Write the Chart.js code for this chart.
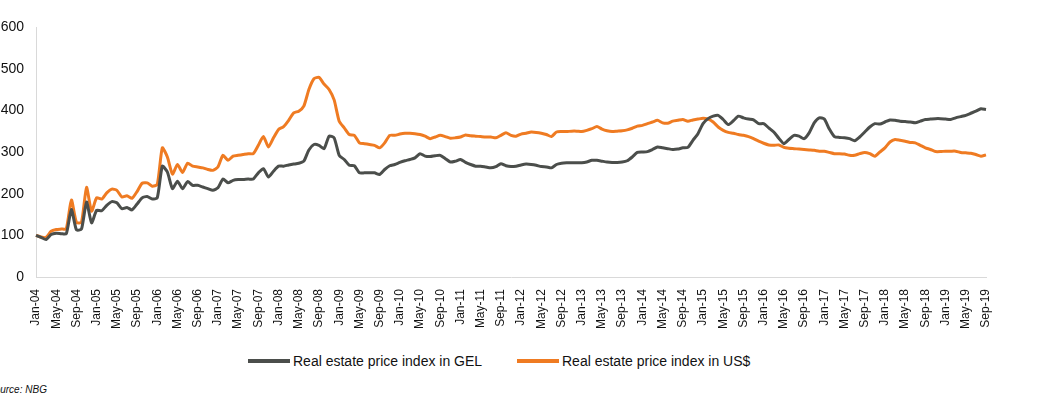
<!DOCTYPE html>
<html>
<head>
<meta charset="utf-8">
<script src="https://cdn.jsdelivr.net/npm/chart.js@4.4.1/dist/chart.umd.min.js"></script>
<style>
  html, body { margin: 0; padding: 0; background: #fff; overflow: hidden; }
  body { width: 1045px; height: 395px; position: relative; font-family: "Liberation Sans", Arial, sans-serif; }
  #wrap { position: absolute; left: 0; top: 0; width: 1045px; height: 330px; }
  #legend { position: absolute; top: 352px; left: 0; width: 1045px; height: 20px; font-size: 14px; color: #111; }
  .li { position: absolute; top: 0; height: 18px; line-height: 18px; white-space: nowrap; }
  .sw { position: absolute; top: 7px; height: 4px; width: 42px; }
  .tx { position: absolute; top: 0; left: 45px; }
  #source { position: absolute; left: -12px; top: 384px; font-size: 10px; font-style: italic; color: #111; white-space: nowrap; }
</style>
</head>
<body>
<div id="wrap"><canvas id="c"></canvas></div>
<div id="legend"></div>
<div id="source">Source: NBG</div>
<script>
const MONTHS = ["Jan","Feb","Mar","Apr","May","Jun","Jul","Aug","Sep","Oct","Nov","Dec"];
const categories = [];
for (let y = 2004; y <= 2019; y++) {
  for (let m = 0; m < 12; m++) {
    if (y === 2019 && m > 8) break;
    categories.push(MONTHS[m] + "-" + String(y).slice(2));
  }
}
const tickEvery = 4;

const seriesNames = ["Real estate price index in GEL", "Real estate price index in US$"];
const seriesColors = ["#4b4e4b", "#ef7b22"];

const gelIndex = [
100,95,90,102,105,104,104,162,113,115,180,130,
160,159,172,181,178,164,167,161,175,190,193,187,
190,266,252,212,230,212,229,220,220,216,212,208,
214,235,226,232,234,234,235,235,250,260,240,254,
266,266,269,271,273,278,305,318,316,308,338,334,
292,282,268,267,250,250,250,250,246,258,267,270,
275,279,282,286,296,290,289,291,292,284,276,278,
282,275,270,266,266,264,262,265,272,267,265,266,
269,271,270,268,265,264,262,270,273,274,274,274,
274,276,280,280,278,276,275,275,276,279,288,299,
300,301,306,312,310,308,306,307,310,311,328,344,
368,380,386,388,378,366,375,386,382,379,377,368,
368,358,348,333,320,330,340,338,332,346,370,382,
379,355,337,335,334,332,327,336,348,360,368,367,
372,377,376,374,373,372,370,374,378,379,380,380,
379,378,382,385,388,393,398,404,402
];

const usdIndex = [
100,96,95,110,114,115,116,185,131,131,215,158,
190,187,202,211,208,192,195,189,205,225,226,218,
222,310,288,247,270,251,273,266,264,262,258,256,
264,292,280,290,292,294,296,296,316,337,312,334,
354,361,376,394,398,410,450,476,479,463,450,425,
374,358,342,340,322,320,318,316,310,322,340,340,
343,345,345,344,342,338,332,336,340,337,333,334,
336,341,339,338,337,336,336,334,340,346,340,338,
343,345,348,347,345,342,337,348,349,349,350,350,
349,352,356,361,355,351,349,350,351,353,357,362,
364,368,372,376,370,369,374,376,378,374,377,379,
381,379,372,360,352,347,345,342,340,337,332,326,
321,317,316,317,311,309,308,307,306,305,304,302,
302,299,296,296,295,292,292,296,299,296,290,300,
310,324,330,328,326,323,322,316,310,306,301,301,
302,302,302,299,298,297,294,290,293,288
];

const yMin = 0, yMax = 600, yStep = 100;

const series = [gelIndex, usdIndex];

// HTML legend built from series names/colours
const legendLayout = [248, 517];
const legend = document.getElementById('legend');
seriesNames.forEach((name, i) => {
  const item = document.createElement('div');
  item.className = 'li';
  item.style.left = legendLayout[i] + 'px';
  const sw = document.createElement('div');
  sw.className = 'sw';
  sw.style.background = seriesColors[i];
  const tx = document.createElement('div');
  tx.className = 'tx';
  tx.textContent = name;
  item.appendChild(sw); item.appendChild(tx);
  legend.appendChild(item);
});

new Chart(document.getElementById('c'), {
  type: 'line',
  data: {
    labels: categories,
    datasets: series.map((d, i) => ({
      label: seriesNames[i],
      data: d,
      borderColor: seriesColors[i],
      backgroundColor: seriesColors[i],
      borderWidth: 3,
      pointRadius: 0,
      pointHoverRadius: 0,
      tension: 0.2,
      fill: false
    }))
  },
  options: {
    responsive: true,
    maintainAspectRatio: false,
    animation: false,
    layout: { padding: { top: 27, left: 0, right: 59, bottom: 0 } },
    plugins: { legend: { display: false }, tooltip: { enabled: false } },
    scales: {
      x: {
        grid: { display: false },
        border: { display: true, color: '#d9d9d9', width: 1 },
        afterFit: (s) => { s.height = 53; },
        ticks: {
          autoSkip: false,
          maxRotation: 90,
          minRotation: 90,
          padding: 4,
          color: '#111',
          font: { family: '"Liberation Sans", Arial, sans-serif', size: 12 },
          callback: function(v, i) { return i % tickEvery === 0 ? categories[i] : null; }
        }
      },
      y: {
        min: yMin, max: yMax,
        grid: { display: false },
        border: { display: true, color: '#d9d9d9', width: 1 },
        afterFit: (s) => { s.width = 36; },
        ticks: {
          stepSize: yStep,
          padding: 4,
          color: '#111',
          font: { family: '"Liberation Sans", Arial, sans-serif', size: 14 }
        }
      }
    }
  }
});
</script>
</body>
</html>
